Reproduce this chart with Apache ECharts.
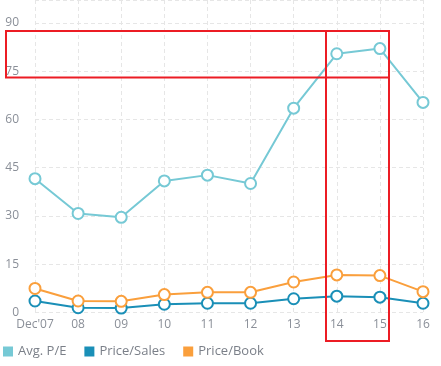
<!DOCTYPE html>
<html><head><meta charset="utf-8">
<script src="https://cdn.jsdelivr.net/npm/echarts@6/dist/echarts.min.js"></script>
<style>html,body{margin:0;padding:0;background:#fff}#c{width:441px;height:366px}</style>
</head><body><div id="c"></div>
<script>
var categories = ["Dec'07","08","09","10","11","12","13","14","15","16"];
var avgPE = [41.6, 30.8, 29.6, 40.9, 42.7, 40.1, 63.5, 80.4, 82.0, 65.3];
var priceSales = [3.6, 1.5, 1.4, 2.6, 2.9, 2.9, 4.3, 5.1, 4.8, 2.9];
var priceBook = [7.5, 3.6, 3.5, 5.6, 6.3, 6.3, 9.5, 11.7, 11.5, 6.5];
var seriesNames = ["Avg. P/E", "Price/Sales", "Price/Book"];
var colors = ["#76c9d5", "#1a8fb7", "#fa9f3c"];

var chart = echarts.init(document.getElementById('c'), null, {renderer: 'canvas'});
var font = "'Open Sans', sans-serif";
function mk(name, data, color) {
  return {
    name: name, type: 'line', data: data,
    symbol: 'circle', symbolSize: 11,
    lineStyle: {width: 2, color: color},
    itemStyle: {color: '#fff', borderColor: color, borderWidth: 2},
    emphasis: {disabled: true}
  };
}
chart.setOption({
  animation: false,
  color: colors,
  textStyle: {fontFamily: font},
  grid: {left: 35, right: 18, top: -2, bottom: 53.4, containLabel: false},
  xAxis: {
    type: 'category', data: categories, boundaryGap: false,
    axisLine: {show: false}, axisTick: {show: false},
    axisLabel: {color: '#8a8f98', fontSize: 12, fontFamily: font, margin: 6, interval: 0},
    splitLine: {show: true, interval: 0, lineStyle: {color: '#e6e6e6', type: [4, 3]}}
  },
  yAxis: {
    type: 'value', min: 0, max: 97.1, interval: 15,
    axisLine: {show: false}, axisTick: {show: false},
    axisLabel: {color: '#8a8f98', fontSize: 12, fontFamily: font, margin: 16, showMaxLabel: false},
    splitLine: {show: true, lineStyle: {color: '#e6e6e6', type: [4, 3]}}
  },
  legend: {
    bottom: 8, left: 3, padding: 0, itemWidth: 10, itemHeight: 10, itemGap: 18, icon: 'rect',
    textStyle: {color: '#7a7f88', fontSize: 13, fontFamily: font},
    data: seriesNames.map(function (n, i) {
      return {name: n, itemStyle: {color: colors[i], borderWidth: 0}};
    })
  },
  series: [
    mk(seriesNames[0], avgPE, colors[0]),
    mk(seriesNames[1], priceSales, colors[1]),
    mk(seriesNames[2], priceBook, colors[2])
  ],
  graphic: [
    {type: 'rect', z: 100, shape: {x: 6, y: 31, width: 383, height: 46.5}, style: {fill: 'none', stroke: '#ec1c24', lineWidth: 2}},
    {type: 'rect', z: 100, shape: {x: 326, y: 31, width: 63, height: 310}, style: {fill: 'none', stroke: '#ec1c24', lineWidth: 2}}
  ]
});
</script></body></html>
